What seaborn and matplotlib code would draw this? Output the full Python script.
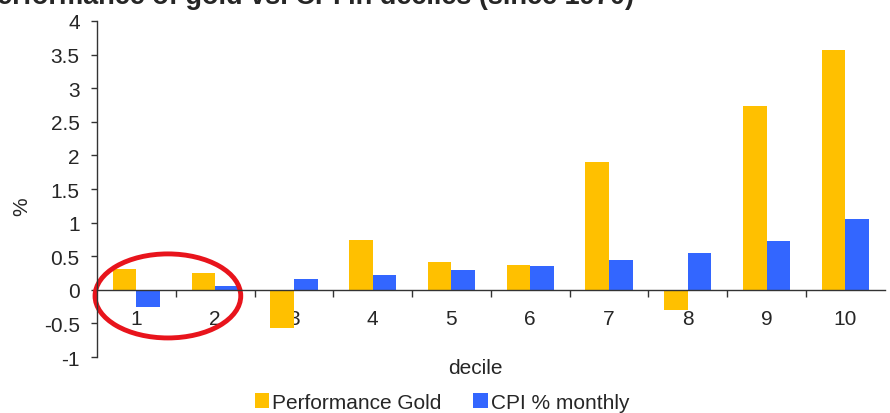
import numpy as np
import pandas as pd
import matplotlib.pyplot as plt
import seaborn as sns
from matplotlib.patches import Ellipse
from matplotlib.ticker import FixedLocator

deciles = ['1', '2', '3', '4', '5', '6', '7', '8', '9', '10']
gold = [0.31, 0.25, -0.57, 0.74, 0.42, 0.37, 1.90, -0.30, 2.74, 3.57]
cpi = [-0.25, 0.06, 0.16, 0.22, 0.29, 0.36, 0.44, 0.55, 0.72, 1.05]
series = ['Performance Gold', 'CPI % monthly']
colors = ['#FFC000', '#3366FF']

df = pd.DataFrame({
    'decile': deciles * 2,
    'value': gold + cpi,
    'series': [series[0]] * len(deciles) + [series[1]] * len(deciles),
})

sns.set_style('white')
plt.rcParams['font.family'] = ['Liberation Sans', 'DejaVu Sans']

fig = plt.figure(figsize=(8.9, 4.14), dpi=100)
ax = fig.add_axes([0.109, 0.135, 0.885, 0.812])

sns.barplot(data=df, x='decile', y='value', hue='series', palette=colors,
            width=0.6, gap=0, saturation=1, linewidth=0, ax=ax, legend=True)

ax.set_ylim(-1, 4)
ax.set_xlim(-0.5, len(deciles) - 0.5)
ax.set_yticks(np.arange(-1, 4.01, 0.5))
ax.set_yticklabels(['-1', '-0.5', '0', '0.5', '1', '1.5', '2', '2.5', '3', '3.5', '4'])

for s in ['top', 'right']:
    ax.spines[s].set_visible(False)
ax.spines['bottom'].set_position(('data', 0))
for s in ['left', 'bottom']:
    ax.spines[s].set_color('#333333')
    ax.spines[s].set_linewidth(1.0)

ax.tick_params(axis='y', direction='out', length=4.5, width=1, color='#333333',
               labelsize=15, pad=8, left=True)
ax.tick_params(axis='x', which='major', length=0, labelsize=15, pad=14)
ax.xaxis.set_minor_locator(FixedLocator(np.arange(0.5, len(deciles) - 0.5, 1)))
ax.tick_params(axis='x', which='minor', direction='out', length=5, width=1,
               color='#333333', bottom=True)

ax.set_xlabel('decile', fontsize=15)
ax.xaxis.set_label_coords(0.48, -0.002)
ax.xaxis.label.set_va('top')
ax.set_ylabel('%', fontsize=15)
ax.yaxis.set_label_coords(-0.083, 0.45)

# red ring drawn around the first two deciles
ax.add_patch(Ellipse((0.40, -0.09), 1.85, 1.25, fill=False, edgecolor='#E8141C',
                     linewidth=3.5, clip_on=False))

ax.legend(loc='center', bbox_to_anchor=(0.438, -0.134), ncol=2, frameon=False,
          fontsize=15, handlelength=0.7, handleheight=0.7, handletextpad=0.15,
          columnspacing=1.5, borderpad=0)

fig.text(-0.024, 1.008, 'Performance of gold vs. CPI in deciles (since 1970)',
         fontsize=19.5, fontweight='bold', ha='left', va='center')

fig.savefig('out.png', dpi=100)
